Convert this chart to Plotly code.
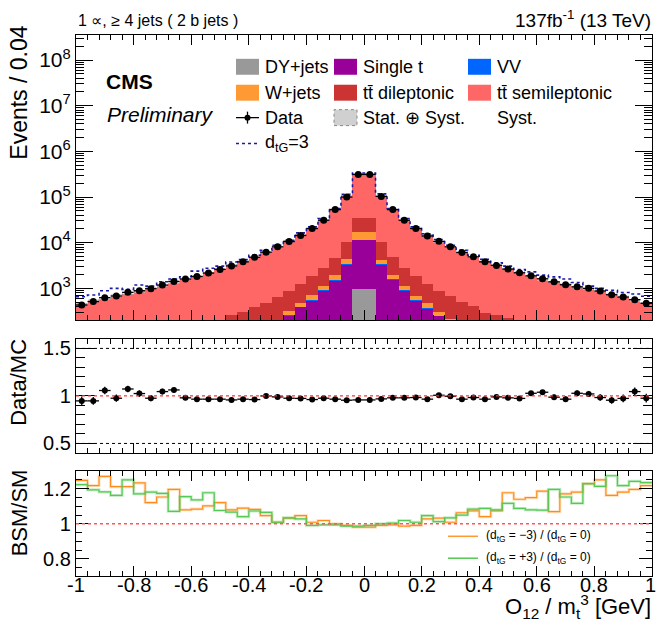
import numpy as np
import plotly.graph_objects as go

# ---------------- data ----------------
bin_edges = [round(-1 + 0.04 * i, 2) for i in range(51)]

dy = [1, 1, 1, 1, 2, 2, 2, 3, 3, 4, 4, 5, 5, 6, 7, 8, 10, 10, 15, 20, 30, 50, 80, 150, 950,
      950, 150, 80, 50, 30, 20, 15, 10, 10, 8, 7, 6, 5, 5, 4, 4, 3, 3, 2, 2, 1, 1, 1, 1, 1]
single_t = [8, 9, 10, 11, 12, 14, 16, 18, 21, 24, 28, 33, 40, 48, 60, 80, 110, 150, 242, 374, 520, 860, 1420, 3200, 10600,
            10600, 3200, 1490, 860, 520, 340, 235, 165, 125, 95, 75, 58, 46, 38, 32, 27, 23, 20, 17, 15, 13, 12, 11, 10, 9]
vv = [1, 1, 1, 1, 1, 1, 1, 1, 1, 1, 1, 1, 1, 1, 1, 2, 2, 3, 4, 6, 8, 10, 20, 50, 150,
      150, 50, 20, 10, 8, 6, 4, 3, 2, 2, 1, 1, 1, 1, 1, 1, 1, 1, 1, 1, 1, 1, 1, 1, 1]
wjets = [3, 3, 3, 3, 4, 4, 4, 5, 5, 6, 7, 8, 9, 10, 12, 15, 25, 45, 58, 70, 158, 200, 430, 960, 5300,
         5300, 900, 360, 200, 124, 104, 45, 40, 30, 25, 15, 12, 10, 9, 8, 7, 6, 5, 5, 4, 4, 3, 3, 3, 3]
tt_dilep = [30, 34, 38, 42, 48, 54, 60, 68, 78, 90, 105, 125, 150, 196, 223, 293, 338, 448, 567, 770, 1144, 1750, 2800, 6040, 18600,
            18600, 6000, 2950, 1750, 1178, 770, 581, 462, 343, 288, 195, 184, 159, 130, 115, 100, 88, 78, 70, 62, 56, 50, 45, 40, 36]
tt_semilep = [413, 493, 537, 639, 693, 790, 921, 1033, 1228, 1508, 1739, 2064, 2487, 2975, 3631, 4592, 5715, 7526, 9975, 13544,
              19346, 28892, 50115, 94312, 291122,
              291122, 95995, 49182, 28763, 18893, 13253, 9746, 7444, 5805, 4567, 3641, 2951, 2473, 2065, 1669, 1420, 1287,
              1135, 956, 895, 815, 692, 601, 485, 432]
data = [432, 513, 624, 680, 816, 887, 980, 1180, 1420, 1600, 1820, 2160, 2600, 3100, 3800, 4800, 6200, 8100, 10600, 14400,
        20400, 31000, 53000, 100000, 313000,
        313000, 103000, 53000, 31000, 20400, 14000, 10700, 8100, 6100, 4900, 3800, 3180, 2640, 2190, 1880, 1620, 1390,
        1200, 1080, 1000, 875, 725, 645, 565, 470]
dtg3 = [656, 714, 887, 1000, 950, 1180, 1120, 1390, 1600, 1790, 2380, 2750, 3070, 3780, 4260, 5300, 6800, 8800, 11300, 16400,
        22200, 33800, 55700, 114000, 335000,
        335000, 117000, 55700, 33800, 22200, 15700, 11700, 8800, 6800, 5300, 4330, 3630, 3060, 2580, 2290, 1950, 1780,
        1600, 1340, 1120, 1000, 910, 810, 750, 670]
mc_rel_unc = [0.07, 0.07, 0.07, 0.065, 0.065, 0.06, 0.06, 0.06, 0.06, 0.055, 0.055, 0.05, 0.05, 0.05, 0.05, 0.05, 0.05, 0.05,
              0.05, 0.05, 0.05, 0.05, 0.05, 0.05, 0.05,
              0.05, 0.05, 0.05, 0.05, 0.05, 0.05, 0.05, 0.05, 0.05, 0.05, 0.05, 0.05, 0.05, 0.05, 0.05, 0.055, 0.055,
              0.06, 0.06, 0.06, 0.06, 0.065, 0.065, 0.07, 0.07]
ratio = [0.948, 0.948, 1.057, 0.976, 1.073, 1.025, 0.976, 1.046, 1.063, 0.980, 0.966, 0.966, 0.966, 0.958, 0.966, 0.962,
         1.000, 0.990, 0.976, 0.974, 0.962, 0.976, 0.966, 0.955, 0.958,
         0.958, 0.969, 0.980, 0.980, 0.983, 0.966, 1.007, 0.997, 0.966, 0.983, 0.966, 0.990, 0.980, 0.974, 1.028, 1.039,
         0.987, 0.966, 1.028, 1.021, 0.983, 0.955, 0.974, 1.046, 0.976]
ratio_err = [0.045, 0.042, 0.04, 0.038, 0.035, 0.034, 0.032, 0.03, 0.027, 0.025, 0.023, 0.021, 0.02, 0.018, 0.016, 0.014,
             0.013, 0.011, 0.01, 0.008, 0.007, 0.006, 0.004, 0.003, 0.002,
             0.002, 0.003, 0.004, 0.006, 0.007, 0.008, 0.01, 0.011, 0.013, 0.014, 0.016, 0.018, 0.02, 0.021, 0.023, 0.025,
             0.027, 0.029, 0.03, 0.032, 0.034, 0.037, 0.04, 0.042, 0.046]
bsm_minus = [1.248, 1.218, 1.270, 1.212, 1.212, 1.233, 1.121, 1.153, 1.196, 1.080, 1.084, 1.102, 1.121, 1.080, 1.089, 1.082,
             1.047, 1.009, 1.032, 1.047, 1.009, 1.019, 1.000, 0.991, 0.981,
             0.981, 0.991, 0.994, 0.987, 0.991, 1.028, 1.032, 1.009, 1.063, 1.074, 1.041, 1.074, 1.177, 1.140, 1.149,
             1.186, 1.069, 1.171, 1.181, 1.229, 1.251, 1.162, 1.181, 1.196, 1.218]
bsm_plus = [1.223, 1.194, 1.182, 1.162, 1.251, 1.171, 1.181, 1.173, 1.071, 1.155, 1.136, 1.177, 1.076, 1.067, 1.041, 1.073,
            1.065, 1.009, 1.034, 1.028, 0.991, 0.994, 0.994, 0.987, 0.987,
            0.991, 1.000, 1.004, 1.019, 1.009, 1.047, 1.013, 1.034, 1.050, 1.084, 1.088, 1.080, 1.117, 1.088, 1.080,
            1.078, 1.196, 1.153, 1.117, 1.229, 1.214, 1.274, 1.218, 1.242, 1.235]
y_ticks_main = [1e3, 1e4, 1e5, 1e6, 1e7, 1e8]
y_ticktext_main = ["10<sup>3</sup>", "10<sup>4</sup>", "10<sup>5</sup>", "10<sup>6</sup>", "10<sup>7</sup>", "10<sup>8</sup>"]
x_ticks = [-1, -0.8, -0.6, -0.4, -0.2, 0, 0.2, 0.4, 0.6, 0.8, 1]
x_ticktext = ["-1", "-0.8", "-0.6", "-0.4", "-0.2", "0", "0.2", "0.4", "0.6", "0.8", "1"]
ratio_ticks = [0.5, 1, 1.5]
ratio_ticktext = ["0.5", "1", "1.5"]
bsm_ticks = [0.8, 1, 1.2]
bsm_ticktext = ["0.8", "1", "1.2"]

# ---------------- derived ----------------
edges = np.array(bin_edges)
centers = (edges[:-1] + edges[1:]) / 2
width = edges[1] - edges[0]
mc_total = (np.array(dy) + np.array(single_t) + np.array(vv) + np.array(wjets)
            + np.array(tt_dilep) + np.array(tt_semilep))
unc = mc_total * np.array(mc_rel_unc)

FONT = "Liberation Sans, Arial, Helvetica, sans-serif"
W, H = 656, 625
L, R = 76, 652


def px(x):
    return (x - L) / (R - L)


def py(y):
    return 1 - y / H


C_DY = "#999999"
C_W = "#ff9933"
C_ST = "#990099"
C_VV = "#0066ff"
C_DL = "#cc3333"
C_SL = "#ff6666"

fig = go.Figure()

# stacked histograms
for vals, col, name in [(dy, C_DY, "DY+jets"), (single_t, C_ST, "Single t"), (vv, C_VV, "VV"),
                        (wjets, C_W, "W+jets"), (tt_dilep, C_DL, "tt dileptonic"),
                        (tt_semilep, C_SL, "tt semileptonic")]:
    fig.add_trace(go.Bar(x=centers, y=vals, width=width, marker=dict(color=col, line=dict(width=0)),
                         name=name, showlegend=False, xaxis="x", yaxis="y"))

# stat+syst band
fig.add_trace(go.Bar(x=centers, y=2 * unc, base=mc_total - unc, width=width,
                     marker=dict(color="rgba(0,0,0,0)", line=dict(width=0),
                                 pattern=dict(shape=".", fgcolor="#555555", bgcolor="rgba(255,255,255,0.45)",
                                              size=3, solidity=0.5)),
                     showlegend=False, xaxis="x", yaxis="y"))

# d_tG = 3 dotted
fig.add_trace(go.Scatter(x=edges, y=list(dtg3) + [dtg3[-1]], mode="lines", line_shape="hv",
                         line=dict(color="#1a1aa6", width=1.6, dash="dot"), showlegend=False,
                         xaxis="x", yaxis="y"))

# data
fig.add_trace(go.Scatter(x=centers, y=data, mode="markers",
                         marker=dict(color="black", size=7),
                         error_x=dict(type="constant", value=width / 2, color="black", thickness=1.3, width=0),
                         error_y=dict(type="data", array=np.array(data) * np.array(ratio_err), color="black",
                                      thickness=1.3, width=0),
                         showlegend=False, xaxis="x", yaxis="y"))

# ratio panel
fig.add_trace(go.Scatter(x=centers, y=ratio, mode="markers",
                         marker=dict(color="black", size=6),
                         error_x=dict(type="constant", value=width / 2, color="black", thickness=1.3, width=0),
                         error_y=dict(type="data", array=ratio_err, color="black", thickness=1.3, width=0),
                         showlegend=False, xaxis="x2", yaxis="y2"))

# BSM/SM panel
for vals, col, halo in [(bsm_minus, "#ff8c1a", "rgba(255,175,90,0.35)"),
                        (bsm_plus, "#55c855", "rgba(100,205,100,0.35)")]:
    yy = list(vals) + [vals[-1]]
    fig.add_trace(go.Scatter(x=edges, y=yy, mode="lines", line_shape="hv",
                             line=dict(color=halo, width=3), showlegend=False, xaxis="x3", yaxis="y3"))
    fig.add_trace(go.Scatter(x=edges, y=yy, mode="lines", line_shape="hv",
                             line=dict(color=col, width=1.2), showlegend=False, xaxis="x3", yaxis="y3"))

axis_common = dict(showline=True, linecolor="black", linewidth=1.2, mirror="allticks", ticks="inside",
                   tickcolor="black", showgrid=False, zeroline=False,
                   tickfont=dict(family=FONT, size=20, color="black"))


def xaxis_cfg(anchor):
    return dict(axis_common, range=[-1, 1], tickmode="array", tickvals=x_ticks, ticktext=x_ticktext,
                ticklen=10, tickwidth=1.2, anchor=anchor, showticklabels=False, domain=[0, 1],
                minor=dict(ticks="inside", dtick=0.04, tick0=-1, ticklen=5, tickcolor="black", tickwidth=1))


minor_log = [m * 10 ** k for k in range(2, 9) for m in range(2, 10)]

fig.update_layout(
    width=W, height=H, margin=dict(l=L, r=W - R, t=0, b=0),
    paper_bgcolor="white", plot_bgcolor="white",
    barmode="stack", bargap=0, bargroupgap=0,
    font=dict(family=FONT, color="black"),
    showlegend=False,
    xaxis=xaxis_cfg("y"),
    xaxis2=dict(xaxis_cfg("y2"), matches="x"),
    xaxis3=dict(xaxis_cfg("y3"), matches="x"),
    yaxis=dict(axis_common, domain=[py(320), py(34)], type="log", range=[2.307, 8.551], anchor="x",
               tickmode="array", tickvals=y_ticks_main, ticktext=y_ticktext_main, ticklen=17, tickwidth=1.2,
               tickfont=dict(family=FONT, size=21, color="black"),
               minor=dict(ticks="inside", tickmode="array", tickvals=minor_log, ticklen=8,
                          tickcolor="black", tickwidth=1)),
    yaxis2=dict(axis_common, domain=[py(453.4), py(339)], range=[0.4, 1.6], anchor="x2",
                tickmode="array", tickvals=ratio_ticks, ticktext=ratio_ticktext, ticklen=19, tickwidth=1.2,
                minor=dict(ticks="inside", dtick=0.1, tick0=0.4, ticklen=9, tickcolor="black", tickwidth=1)),
    yaxis3=dict(axis_common, domain=[py(577.3), py(471.7)], range=[0.7, 1.3], anchor="x3",
                tickmode="array", tickvals=bsm_ticks, ticktext=bsm_ticktext, ticklen=13, tickwidth=1.2,
                minor=dict(ticks="inside", dtick=0.05, tick0=0.7, ticklen=6, tickcolor="black", tickwidth=1)),
)

# reference lines
shapes = [
    dict(type="line", xref="x2 domain", yref="y2", x0=0, x1=1, y0=1.5, y1=1.5,
         line=dict(color="black", width=1, dash="dot")),
    dict(type="line", xref="x2 domain", yref="y2", x0=0, x1=1, y0=0.5, y1=0.5,
         line=dict(color="black", width=1, dash="dot")),
    dict(type="line", xref="x2 domain", yref="y2", x0=0, x1=1, y0=1, y1=1,
         line=dict(color="#ff3333", width=1.2, dash="dot")),
    dict(type="line", xref="x3 domain", yref="y3", x0=0, x1=1, y0=1, y1=1,
         line=dict(color="#ff5555", width=1.5, dash="dot")),
]

annotations = []


def text(x, y, s, size=18, xanchor="left", yanchor="middle", **kw):
    annotations.append(dict(xref="paper", yref="paper", x=px(x), y=py(y), text=s, showarrow=False,
                            xanchor=xanchor, yanchor=yanchor,
                            font=dict(family=FONT, size=size, color="black"), **kw))


# x tick labels of the bottom panel (placed at the axis tick values)
for tv, tt in zip(x_ticks, x_ticktext):
    annotations.append(dict(xref="x3", yref="paper", x=tv, y=py(586), text=tt, showarrow=False,
                            xanchor="center", yanchor="middle", xshift=-2 if tv == 1 else 0,
                            font=dict(family=FONT, size=20, color="black")))

# header texts
text(76, 20, "1 \u221d, \u2265 4 jets ( 2 b jets )", size=16)
text(653, 18, "137fb<sup>-1</sup> (13 TeV)", size=19, xanchor="right")
text(104, 81, "<b>CMS</b>", size=21)
text(105, 114, "<i>Preliminary</i>", size=21)

# axis titles
text(19, 92, "Events / 0.04", size=23, xanchor="center", textangle=-90)
text(19, 383, "Data/MC", size=22, xanchor="center", textangle=-90)
text(19, 514, "BSM/SM", size=22, xanchor="center", textangle=-90)
text(653, 607, "O<sub>12</sub> / m<sub>t</sub><sup>3</sup> [GeV]", size=22, xanchor="right")


# legend
def rect(x0, y0, x1, y1, color, line_color=None, dash=None):
    shapes.append(dict(type="rect", xref="paper", yref="paper", x0=px(x0), x1=px(x1), y0=py(y1), y1=py(y0),
                       fillcolor=color, line=dict(color=line_color or color, width=1, dash=dash) if line_color
                       else dict(width=0)))


rows = [66, 92, 117, 143]
c1, c2, c3 = 236, 334, 468
sw = 23
sh = 16
for (cx, ry, col) in [(c1, rows[0], C_DY), (c1, rows[1], C_W), (c2, rows[0], C_ST), (c2, rows[1], C_DL),
                      (c3, rows[0], C_VV), (c3, rows[1], C_SL)]:
    rect(cx, ry - sh / 2, cx + sw, ry + sh / 2, col)
# Stat (+) Syst swatch: light hatched look
rect(c2, rows[2] - sh / 2, c2 + sw, rows[2] + sh / 2, "#d0d0d0", line_color="#888888", dash="dot")

# data legend symbol
shapes.append(dict(type="line", xref="paper", yref="paper", x0=px(c1), x1=px(c1 + sw), y0=py(rows[2]), y1=py(rows[2]),
                   line=dict(color="black", width=1.3)))
shapes.append(dict(type="line", xref="paper", yref="paper", x0=px(c1 + sw / 2), x1=px(c1 + sw / 2),
                   y0=py(rows[2] - 6), y1=py(rows[2] + 6), line=dict(color="black", width=1.3)))
shapes.append(dict(type="circle", xref="paper", yref="paper", x0=px(c1 + sw / 2 - 3), x1=px(c1 + sw / 2 + 3),
                   y0=py(rows[2] + 3), y1=py(rows[2] - 3), fillcolor="black", line=dict(color="black", width=0)))
# d_tG legend line
shapes.append(dict(type="line", xref="paper", yref="paper", x0=px(c1), x1=px(c1 + sw), y0=py(rows[3]), y1=py(rows[3]),
                   line=dict(color="#1a1aa6", width=1.6, dash="dot")))

tx = 27
text(c1 + tx, rows[0], "DY+jets")
text(c1 + tx, rows[1], "W+jets")
text(c1 + tx, rows[2], "Data")
text(c1 + tx, rows[3], "d<sub>tG</sub>=3")
text(c2 + tx, rows[0], "Single t")
text(c2 + tx, rows[1], "tt\u0304 dileptonic")
text(c2 + tx, rows[2], "Stat. \u2295 Syst.")
text(c3 + tx, rows[0], "VV")
text(c3 + tx, rows[1], "tt\u0304 semileptonic")
text(c3 + tx, rows[2], "Syst.")

# BSM legend
shapes.append(dict(type="line", xref="paper", yref="paper", x0=px(448), x1=px(478), y0=py(537), y1=py(537),
                   line=dict(color="#ff9933", width=1.5)))
shapes.append(dict(type="line", xref="paper", yref="paper", x0=px(448), x1=px(478), y0=py(559), y1=py(559),
                   line=dict(color="#55c855", width=1.5)))
text(484, 537, "(d<sub>tG</sub> = \u22123) / (d<sub>tG</sub> = 0)", size=12)
text(484, 559, "(d<sub>tG</sub> = +3) / (d<sub>tG</sub> = 0)", size=12)

fig.update_layout(shapes=shapes, annotations=annotations)

fig.write_html("out.html", config={"displayModeBar": False},
               post_script="document.body.style.margin='0px';document.body.style.padding='0px';")
